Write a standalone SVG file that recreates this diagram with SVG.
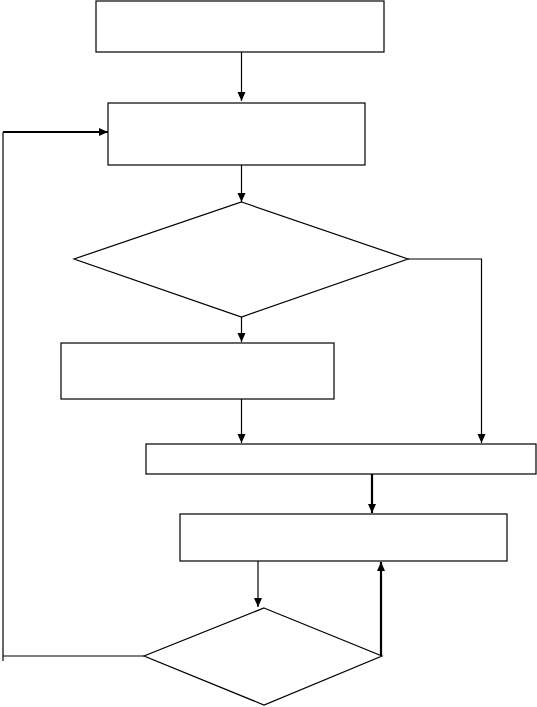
<svg xmlns="http://www.w3.org/2000/svg" width="537" height="707" viewBox="0 0 537 707">
<style>
.n{fill:#fff;stroke:#000;stroke-width:1.2}
.c{fill:none;stroke:#000;stroke-width:1.2}
.t{fill:none;stroke:#000;stroke-width:2.2}
</style>
<defs>
<marker id="a" markerUnits="userSpaceOnUse" markerWidth="10" markerHeight="10" viewBox="0 0 10 10" refX="9" refY="5" orient="auto"><path d="M0,1 L9,5 L0,9 Z" fill="#000"/></marker>
</defs>
<rect width="537" height="707" fill="#fff"/>
<g id="connectors">
<path class="c" d="M241.5,52 V101" marker-end="url(#a)"/>
<path class="c" d="M241.5,165 V202" marker-end="url(#a)"/>
<path class="c" d="M408,259 H481.5 V443" marker-end="url(#a)"/>
<path class="c" d="M241.5,317 V342" marker-end="url(#a)"/>
<path class="c" d="M241.5,399 V443" marker-end="url(#a)"/>
<path class="t" d="M372,474 V513" marker-end="url(#a)"/>
<path class="c" d="M258,561 V607" marker-end="url(#a)"/>
<path class="t" d="M381,656 V562" marker-end="url(#a)"/>
<path class="c" d="M144,656 H3"/>
<path class="c" d="M3,661 V132"/>
<path class="t" d="M3,132 H108" marker-end="url(#a)"/>
</g>
<g id="box1"><rect class="n" x="96" y="1" width="288" height="51"/></g>
<g id="box2"><rect class="n" x="108" y="103" width="257" height="62"/></g>
<g id="decision1"><path class="n" d="M241.5,202 L408,259 L241.5,317 L74,259 Z"/></g>
<g id="box3"><rect class="n" x="61" y="343" width="273" height="56"/></g>
<g id="box4"><rect class="n" x="146" y="444" width="390" height="30"/></g>
<g id="box5"><rect class="n" x="180" y="514" width="327" height="47"/></g>
<g id="decision2"><path class="n" d="M264,608 L382,656 L264,705 L144,656 Z"/></g>
</svg>
